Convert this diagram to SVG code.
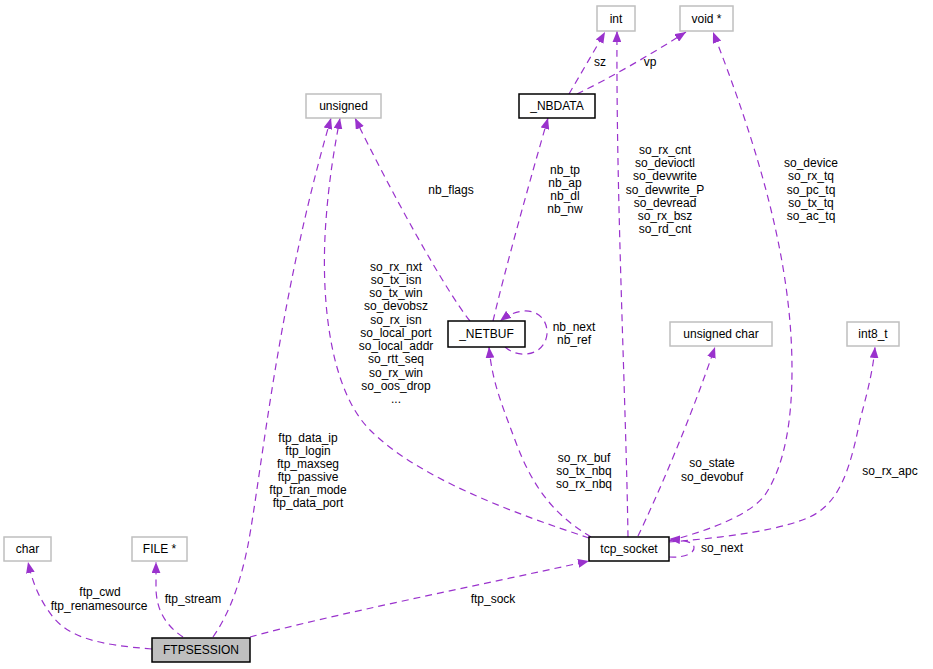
<svg xmlns="http://www.w3.org/2000/svg" width="933" height="669" viewBox="0 0 933 669">
<style>
text{font-family:"Liberation Sans",Arial,sans-serif;font-size:12px;fill:#000}
.t{text-anchor:middle}
.ty{fill:#fff;stroke:#bfbfbf;stroke-width:1.5}
.cl{fill:#fff;stroke:#000;stroke-width:1.5}
.e{fill:none;stroke:#9a32cd;stroke-width:1.2;stroke-dasharray:7,5}
</style>
<defs>
<marker id="ah" viewBox="0 0 10 8" refX="10" refY="4" markerWidth="11" markerHeight="9" markerUnits="userSpaceOnUse" orient="auto">
<path d="M0,0 L10,4 L0,8 z" fill="#9a32cd"/>
</marker>
</defs>
<rect width="933" height="669" fill="#fff"/>
<g id="connectors">
<path class="e" marker-end="url(#ah)" d="M152,649 C100,645 70,638 53,617 C38,598 32,580 28,562"/>
<path class="e" marker-end="url(#ah)" d="M183,637 C165,625 157,610 156,590 L156,562"/>
<path class="e" marker-end="url(#ah)" d="M213,637 C232,610 242,575 248,545 C262,470 278,300 331,118"/>
<path class="e" marker-end="url(#ah)" d="M250,637 C330,615 480,585 589,561"/>
<path class="e" marker-end="url(#ah)" d="M589,538 C520,515 420,480 370,430 C330,390 320,300 326,220 C329,180 334,150 340,118"/>
<path class="e" marker-end="url(#ah)" d="M470,321 C445,290 390,190 355,118"/>
<path class="e" marker-end="url(#ah)" d="M493,321 C505,270 530,180 548,118"/>
<path class="e" marker-end="url(#ah)" d="M505,347 C520,360 545,355 547,334 C548,312 525,302 500,321"/>
<path class="e" marker-end="url(#ah)" d="M591,537 C560,518 535,495 515,440 C500,400 492,380 489,347"/>
<path class="e" marker-end="url(#ah)" d="M628,537 C626,400 616,200 617,31"/>
<path class="e" marker-end="url(#ah)" d="M569,94 C580,75 593,53 605,32"/>
<path class="e" marker-end="url(#ah)" d="M577,94 C610,78 650,55 686,32"/>
<path class="e" marker-end="url(#ah)" d="M638,536 C660,490 690,420 715,347"/>
<path class="e" marker-end="url(#ah)" d="M669,541 C710,530 750,515 765,495 C785,465 792,420 792,370 C792,290 775,190 713,32"/>
<path class="e" marker-end="url(#ah)" d="M669,542 C720,538 790,530 817,513 C840,498 850,470 860,420 C868,390 873,370 875,347"/>
<path class="e" marker-end="url(#ah)" d="M669,557 C685,558 695,553 694,547 C693,542 685,540 669,539"/>
<text class="t" x="100" y="596">ftp_cwd</text>
<text class="t" x="99" y="610">ftp_renamesource</text>
<text class="t" x="193" y="603">ftp_stream</text>
<text class="t" x="308" y="442">ftp_data_ip</text>
<text class="t" x="308" y="455">ftp_login</text>
<text class="t" x="308" y="468">ftp_maxseg</text>
<text class="t" x="308" y="481">ftp_passive</text>
<text class="t" x="308" y="494">ftp_tran_mode</text>
<text class="t" x="308" y="507">ftp_data_port</text>
<text class="t" x="493" y="603">ftp_sock</text>
<text class="t" x="396" y="271">so_rx_nxt</text>
<text class="t" x="396" y="284">so_tx_isn</text>
<text class="t" x="396" y="297">so_tx_win</text>
<text class="t" x="396" y="310">so_devobsz</text>
<text class="t" x="396" y="324">so_rx_isn</text>
<text class="t" x="396" y="337">so_local_port</text>
<text class="t" x="396" y="350">so_local_addr</text>
<text class="t" x="396" y="363">so_rtt_seq</text>
<text class="t" x="396" y="377">so_rx_win</text>
<text class="t" x="396" y="390">so_oos_drop</text>
<text class="t" x="396" y="403">...</text>
<text class="t" x="451" y="194">nb_flags</text>
<text class="t" x="565" y="174">nb_tp</text>
<text class="t" x="565" y="187">nb_ap</text>
<text class="t" x="565" y="200">nb_dl</text>
<text class="t" x="565" y="213">nb_nw</text>
<text class="t" x="574" y="331">nb_next</text>
<text class="t" x="574" y="344">nb_ref</text>
<text class="t" x="600" y="66">sz</text>
<text class="t" x="650" y="66">vp</text>
<text class="t" x="665" y="154">so_rx_cnt</text>
<text class="t" x="665" y="167">so_devioctl</text>
<text class="t" x="665" y="180">so_devwrite</text>
<text class="t" x="665" y="194">so_devwrite_P</text>
<text class="t" x="665" y="207">so_devread</text>
<text class="t" x="665" y="220">so_rx_bsz</text>
<text class="t" x="665" y="233">so_rd_cnt</text>
<text class="t" x="811" y="167">so_device</text>
<text class="t" x="811" y="180">so_rx_tq</text>
<text class="t" x="811" y="194">so_pc_tq</text>
<text class="t" x="811" y="207">so_tx_tq</text>
<text class="t" x="811" y="220">so_ac_tq</text>
<text class="t" x="584" y="462">so_rx_buf</text>
<text class="t" x="584" y="475">so_tx_nbq</text>
<text class="t" x="584" y="488">so_rx_nbq</text>
<text class="t" x="712" y="467">so_state</text>
<text class="t" x="712" y="481">so_devobuf</text>
<text class="t" x="890" y="475">so_rx_apc</text>
<text class="t" x="722" y="552">so_next</text>
</g>
<g id="n_int"><rect class="ty" x="597" y="6" width="38" height="25"/><text class="t" x="616" y="23">int</text></g>
<g id="n_void"><rect class="ty" x="680" y="6" width="53" height="25"/><text class="t" x="706.5" y="23">void *</text></g>
<g id="n_nbdata"><rect class="cl" x="519" y="94" width="76" height="24"/><text class="t" x="557" y="110">_NBDATA</text></g>
<g id="n_unsigned"><rect class="ty" x="306" y="94" width="75" height="24"/><text class="t" x="343.5" y="110">unsigned</text></g>
<g id="n_netbuf"><rect class="cl" x="448" y="321" width="77" height="26"/><text class="t" x="486.5" y="338">_NETBUF</text></g>
<g id="n_uchar"><rect class="ty" x="670" y="322" width="102" height="24"/><text class="t" x="721" y="338">unsigned char</text></g>
<g id="n_int8"><rect class="ty" x="847" y="322" width="52" height="24"/><text class="t" x="873" y="338">int8_t</text></g>
<g id="n_tcp"><rect class="cl" x="589" y="537" width="80" height="24"/><text class="t" x="629" y="553">tcp_socket</text></g>
<g id="n_char"><rect class="ty" x="4" y="537" width="47" height="24"/><text class="t" x="27.5" y="553">char</text></g>
<g id="n_file"><rect class="ty" x="132" y="537" width="55" height="24"/><text class="t" x="159.5" y="553">FILE *</text></g>
<g id="n_ftp"><rect x="152" y="638" width="98" height="24" fill="#bfbfbf" stroke="#000" stroke-width="1.5"/><text class="t" x="201" y="654">FTPSESSION</text></g>
</svg>
